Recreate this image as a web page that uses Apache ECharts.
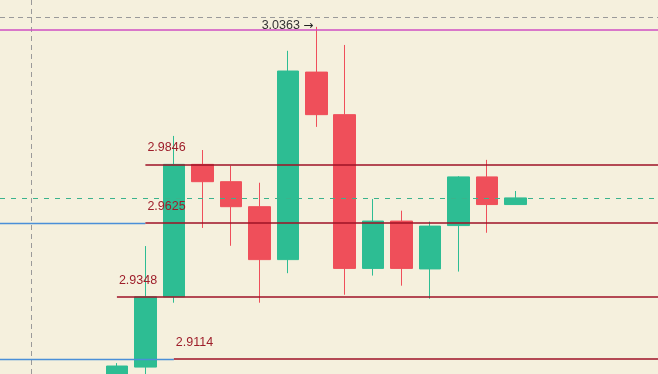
<!DOCTYPE html>
<html>
<head>
<meta charset="utf-8">
<script src="https://cdn.jsdelivr.net/npm/echarts@6/dist/echarts.min.js"></script>
<style>
html,body{margin:0;padding:0;background:#f5f0dd;}
#chart{width:658px;height:374px;}
</style>
</head>
<body>
<div id="chart"></div>
<script>
// ---- data ----
const categories = ['1','2','3','4','5','6','7','8','9','10','11','12','13','14','15','16','17','18','19','20','21','22','23','24'];
const opens  = [2.8950, null, null, null, 2.9000, 2.9084, 2.9348, 2.9846, 2.9781, 2.9687, 2.9488, 3.0193, 3.0033, 2.9455, 2.9633, 2.9453, 2.9616, 2.9799, 2.9695];
const closes = [2.9020, null, null, null, 2.9088, 2.9348, 2.9846, 2.9781, 2.9687, 2.9488, 3.0197, 3.0033, 2.9455, 2.9633, 2.9455, 2.9614, 2.9799, 2.9695, 2.9720];
const lows   = [2.8900, null, null, null, 2.8980, 2.9030, 2.9326, 2.9607, 2.9540, 2.9326, 2.9437, 2.9987, 2.9356, 2.9428, 2.9390, 2.9341, 2.9443, 2.9589, 2.9695];
const highs  = [2.9276, null, null, null, 2.9099, 2.9539, 2.9953, 2.9900, 2.9841, 2.9777, 3.0273, 3.0363, 3.0295, 2.9716, 2.9672, 2.9631, 2.9802, 2.9863, 2.9746];
const levelValues = [2.9846, 2.9625, 2.9348, 2.9114];
const levelStartIdx = [5, 5, 4, 6];
const blueLevels = [2.9625, 2.9114];
const blueEndIdx = [5, 6];
const topLineValue = 3.0354;
const lastPrice = 2.9720;
const crossY = 3.0400;
const crossXIdx = 1;
const maxHighIdx = 11;
const maxHighValue = 3.0363;
const yMin = 2.9058, yMax = 3.0464;

// ---- build ----
const candleData = categories.map((c, i) =>
  (opens[i] == null) ? ['-', '-', '-', '-'] : [opens[i], closes[i], lows[i], highs[i]]);

const markData = [];
// crosshair
markData.push([{x: 0, yAxis: crossY, lineStyle: {color: '#9a9a9a', type: [5, 4], width: 1}}, {x: 658, yAxis: crossY}]);
markData.push([{xAxis: crossXIdx, y: 0, lineStyle: {color: '#9a9a9a', type: [5, 4], width: 1}}, {xAxis: crossXIdx, y: 374}]);
// top magenta line
markData.push([{x: 0, yAxis: topLineValue, lineStyle: {color: '#cf4fc2', type: 'solid', width: 1.5}}, {x: 658, yAxis: topLineValue}]);
// last price dashed
markData.push([{x: 0, yAxis: lastPrice, lineStyle: {color: '#3bb38c', type: [5, 6], width: 1}}, {x: 658, yAxis: lastPrice}]);
// blue lines
blueLevels.forEach((v, k) => {
  markData.push([{x: 0, yAxis: v, lineStyle: {color: '#4a8fd8', type: 'solid', width: 1.3}}, {xAxis: blueEndIdx[k], yAxis: v}]);
});
// red level lines with labels
levelValues.forEach((v, k) => {
  markData.push([{xAxis: levelStartIdx[k], yAxis: v,
    lineStyle: {color: '#9e1226', type: 'solid', width: 1.5},
    label: {show: true, position: 'insideStartTop', formatter: v.toFixed(4), color: '#9e1e2a',
      fontSize: 12.5, fontFamily: 'Liberation Sans, Arial, sans-serif', distance: [2, 10]}},
    {x: 658, yAxis: v}]);
});

const chart = echarts.init(document.getElementById('chart'), null, {renderer: 'canvas'});
chart.setOption({
  backgroundColor: '#f5f0dd',
  animation: false,
  grid: {left: 3, right: 0, top: 0, bottom: 0},
  xAxis: {type: 'category', data: categories, boundaryGap: false, show: false},
  yAxis: {type: 'value', min: yMin, max: yMax, show: false, splitLine: {show: false}},
  series: [{
    type: 'candlestick',
    data: candleData,
    barWidth: 22,
    clip: true,
    itemStyle: {color: '#2dbd93', color0: '#ef4f5a', borderColor: '#2dbd93', borderColor0: '#ef4f5a', borderWidth: 1},
    markLine: {
      silent: true,
      symbol: ['none', 'none'],
      label: {show: false},
      animation: false,
      data: markData
    },
    markPoint: {
      silent: true,
      symbol: 'circle',
      symbolSize: 0,
      data: [{coord: [maxHighIdx, maxHighValue],
        label: {show: true, position: 'left', distance: 3, offset: [0, -1],
          formatter: '{t|' + maxHighValue.toFixed(4) + '} {a|\u2192}',
          rich: {
            t: {color: '#333', fontSize: 12.5, fontFamily: 'Liberation Sans, Arial, sans-serif'},
            a: {color: '#222', fontSize: 12, fontFamily: 'DejaVu Sans, sans-serif'}
          }}}]
    }
  }]
});
</script>
</body>
</html>
